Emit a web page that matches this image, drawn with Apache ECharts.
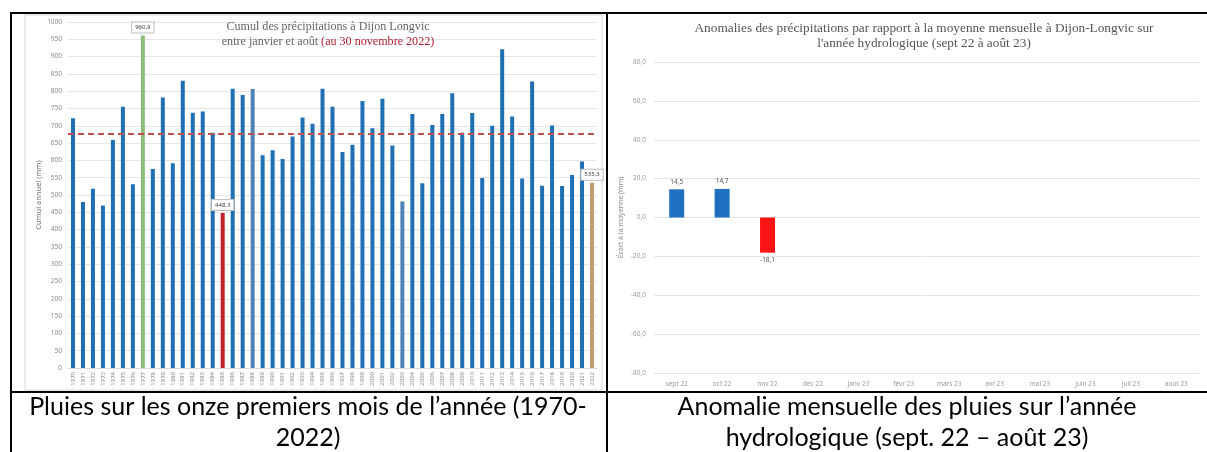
<!DOCTYPE html>
<html>
<head>
<meta charset="utf-8">
<script src="https://cdn.jsdelivr.net/npm/echarts@6/dist/echarts.min.js"></script>
<style>
  html, body { margin: 0; padding: 0; background: #fff; }
  #main { width: 1207px; height: 452px; }
</style>
</head>
<body>
<div id="main"></div>
<script>
// Cumul janvier -> novembre, 1970-2022 (mm)
const years = []
for (let y = 1970; y <= 2022; y++) years.push(String(y))
const cumulValues = [
  722, 480, 518, 470, 659, 755, 531, 960.9, 575, 782,
  592, 830, 738, 741, 680, 448.3, 807, 789, 806, 615,
  629, 604, 669, 724, 706, 807, 755, 624, 645, 772,
  693, 778, 643, 481, 734, 534, 702, 734, 794, 680,
  737, 549, 700, 921, 727, 548, 828, 527, 701, 526,
  558, 597, 535.3
]
const cumulMean = 676
// années mises en évidence
const highlightYears = { '1977': '#8dbd78', '1985': '#c0222c', '2022': '#c49b6e' }
const paleYears = ['1988', '2003']

// Anomalies mensuelles, année hydrologique sept 22 -> août 23 (mm)
const months = ['sept 22', 'oct 22', 'nov 22', 'déc 22', 'janv 23', 'févr 23',
  'mars 23', 'avr 23', 'mai 23', 'juin 23', 'juil 23', 'août 23']
const anomalyValues = [14.5, 14.7, -18.1, null, null, null, null, null, null, null, null, null]

const comma = v => String(v).replace('.', ',')

const chart = echarts.init(document.getElementById('main'))

const cumulData = cumulValues.map((v, i) => {
  const year = years[i]
  const item = { value: v }
  if (highlightYears[year]) {
    item.itemStyle = { color: highlightYears[year] }
    item.label = { show: true }
  } else if (paleYears.includes(year)) {
    item.itemStyle = { color: '#4f83b4' }
  }
  return item
})

const anomalyData = anomalyValues.map(v => {
  if (v === null) return '-'
  return {
    value: v,
    itemStyle: { color: v < 0 ? '#fb1414' : '#1f70c1' },
    label: { position: v < 0 ? 'bottom' : 'top' }
  }
})

const smallLabel = { fontSize: 6.5, color: '#8a8a8a', fontFamily: 'Noto Sans' }
const serif = { fontFamily: 'Liberation Serif', fontWeight: 'normal', lineHeight: 15 }
const captionStyle = { fontFamily: 'Lato', fontSize: 25, fill: '#000', textAlign: 'center', textVerticalAlign: 'middle' }

const option = {
  animation: false,
  backgroundColor: '#fff',
  title: [
    {
      left: 328,
      top: 19,
      textAlign: 'center',
      padding: 0,
      text: '{a|Cumul des précipitations à Dijon Longvic}\n{a|entre janvier et août }{b|(au 30 novembre 2022)}',
      textStyle: {
        rich: {
          a: { ...serif, fontSize: 12.1, color: '#666' },
          b: { ...serif, fontSize: 12.1, color: '#b01f2e' }
        }
      }
    },
    {
      left: 924,
      top: 21,
      textAlign: 'center',
      padding: 0,
      text: 'Anomalies des précipitations par rapport à la moyenne mensuelle à Dijon-Longvic sur\nl\'année hydrologique (sept 22 à août 23)',
      textStyle: { ...serif, fontSize: 13.3, color: '#555' }
    }
  ],
  grid: [
    { left: 68, right: 610, top: 22, bottom: 84 },
    { left: 654, right: 8, top: 62, bottom: 79 }
  ],
  xAxis: [
    {
      gridIndex: 0,
      type: 'category',
      data: years,
      axisTick: { show: false },
      axisLine: { lineStyle: { color: '#d9d9d9' } },
      axisLabel: { ...smallLabel, rotate: 90, interval: 0, margin: 4, fontSize: 6 }
    },
    {
      gridIndex: 1,
      type: 'category',
      data: months,
      axisTick: { show: false },
      axisLine: { show: false, onZero: false },
      axisLabel: { ...smallLabel, margin: 8, color: '#9a9a9a' }
    }
  ],
  yAxis: [
    {
      gridIndex: 0,
      type: 'value',
      min: 0,
      max: 1000,
      interval: 50,
      name: 'Cumul annuel (mm)',
      nameLocation: 'middle',
      nameGap: 25,
      nameTextStyle: { fontSize: 7.5, color: '#707070', fontFamily: 'Noto Sans' },
      axisLabel: { ...smallLabel, margin: 6, formatter: v => String(v) },
      splitLine: { lineStyle: { color: '#e6e6e6' } }
    },
    {
      gridIndex: 1,
      type: 'value',
      min: -80,
      max: 80,
      interval: 20,
      name: 'Écart à la moyenne (mm)',
      nameLocation: 'middle',
      nameGap: 30,
      nameTextStyle: { fontSize: 7, color: '#8a8a8a', fontFamily: 'Noto Sans' },
      axisLabel: { ...smallLabel, margin: 8, color: '#9a9a9a', formatter: v => v.toFixed(1).replace('.', ',') },
      splitLine: { lineStyle: { color: '#e4e4e4' } }
    }
  ],
  series: [
    {
      type: 'bar',
      xAxisIndex: 0,
      yAxisIndex: 0,
      data: cumulData,
      barWidth: 4,
      itemStyle: { color: '#1f6fb4' },
      label: {
        show: false,
        position: 'top',
        distance: 3,
        formatter: p => comma(p.value),
        fontSize: 6,
        color: '#404040',
        fontFamily: 'Noto Sans',
        backgroundColor: '#fff',
        borderColor: '#bdbdbd',
        borderWidth: 1,
        padding: [2, 3]
      },
      markLine: {
        silent: true,
        symbol: 'none',
        label: { show: false },
        lineStyle: { color: '#c0504d', type: [6, 4], width: 2 },
        data: [{ yAxis: cumulMean }]
      }
    },
    {
      type: 'bar',
      xAxisIndex: 1,
      yAxisIndex: 1,
      data: anomalyData,
      barWidth: 15,
      label: {
        show: true,
        distance: 4,
        formatter: p => comma(p.value),
        fontSize: 6.5,
        color: '#555',
        fontFamily: 'Noto Sans'
      }
    }
  ],
  graphic: [
    // cadre de l'image de gauche
    { type: 'rect', shape: { x: 25, y: 15, width: 577, height: 375 }, style: { fill: 'none', stroke: '#d6d6d6', lineWidth: 1 }, silent: true },
    // bordures du tableau
    { type: 'rect', shape: { x: 10, y: 12, width: 1197, height: 2 }, style: { fill: '#000' }, silent: true },
    { type: 'rect', shape: { x: 10, y: 12, width: 2, height: 440 }, style: { fill: '#000' }, silent: true },
    { type: 'rect', shape: { x: 606, y: 12, width: 2, height: 440 }, style: { fill: '#000' }, silent: true },
    { type: 'rect', shape: { x: 10, y: 391, width: 1197, height: 2 }, style: { fill: '#000' }, silent: true },
    // légendes sous les graphiques
    { type: 'text', x: 308, y: 407, style: { ...captionStyle, text: 'Pluies sur les onze premiers mois de l’année (1970-' } },
    { type: 'text', x: 308, y: 438, style: { ...captionStyle, text: '2022)' } },
    { type: 'text', x: 907, y: 407, style: { ...captionStyle, text: 'Anomalie mensuelle des pluies sur l’année' } },
    { type: 'text', x: 907, y: 438, style: { ...captionStyle, text: 'hydrologique (sept. 22 – août 23)' } }
  ]
}

chart.setOption(option)
</script>
</body>
</html>
